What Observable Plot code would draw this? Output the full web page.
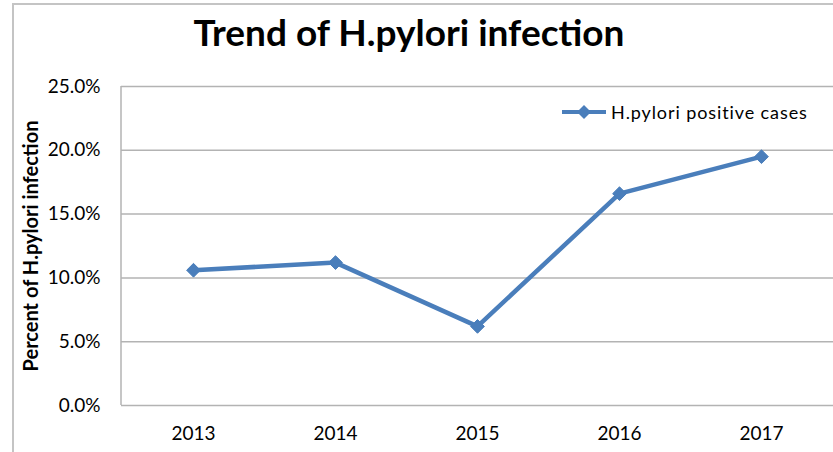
<!DOCTYPE html>
<html>
<head>
<meta charset="utf-8">
<script src="https://cdn.jsdelivr.net/npm/d3@7"></script>
<script src="https://cdn.jsdelivr.net/npm/@observablehq/plot@0.6"></script>
<style>
  html, body { margin: 0; padding: 0; background: #fff; }
  body { width: 833px; height: 452px; overflow: hidden; position: relative; font-family: Lato, "Open Sans", sans-serif; }
  #frame { position: absolute; left: 12px; top: 3px; width: 840px; height: 460px; border-left: 2px solid #c4c4c4; border-top: 2px solid #c4c4c4; }
  #title { position: absolute; left: 0; top: 8px; width: 818px; text-align: center; font-size: 37px; font-weight: bold; color: #000; line-height: 48px; }
  #chart { position: absolute; left: 0; top: 70px; }
  #legend { position: absolute; left: 560px; top: 101px; display: flex; align-items: center; font-size: 18px; letter-spacing: 0.9px; color: #000; }
  #legend svg { margin-right: 3px; }
</style>
</head>
<body>
<div id="frame"></div>
<div id="title">Trend of H.pylori infection</div>
<div id="chart"></div>
<div id="legend"></div>
<script>
const years = ["2013", "2014", "2015", "2016", "2017"];
const positiveRate = [0.106, 0.112, 0.062, 0.166, 0.195];
const yTicks = [0, 0.05, 0.10, 0.15, 0.20, 0.25];
const seriesName = "H.pylori positive cases";
const yLabel = "Percent of H.pylori infection";

const color = "#4a7ebb";
const data = years.map((y, i) => ({year: y, value: positiveRate[i]}));

const leftLine = (index, scales, values, dims) => {
  const g = d3.create("svg:g");
  g.append("line")
    .attr("x1", dims.marginLeft).attr("x2", dims.marginLeft)
    .attr("y1", dims.marginTop).attr("y2", dims.height - dims.marginBottom)
    .attr("stroke", "#b3b3b3").attr("stroke-width", 1.5);
  return g.node();
};

const chart = Plot.plot({
  width: 833,
  height: 382,
  marginLeft: 121,
  marginRight: 0,
  marginTop: 16,
  marginBottom: 47,
  style: {fontFamily: "Lato, 'Open Sans', sans-serif", fontSize: "18px", color: "#000", background: "transparent", overflow: "visible"},
  x: {type: "point", domain: years, padding: 0.5},
  y: {domain: [0, 0.25], ticks: yTicks},
  marks: [
    Plot.gridY(yTicks, {stroke: "#b3b3b3", strokeOpacity: 1, strokeWidth: 1.5}),
    leftLine,
    Plot.axisY(yTicks, {tickSize: 0, tickPadding: 21, tickFormat: d3.format(".1%"), fontSize: 19, label: null}),
    Plot.axisX({tickSize: 0, tickPadding: 21, fontSize: 19, label: null}),
    Plot.text([yLabel], {frameAnchor: "left", dx: -90, rotate: -90, textAnchor: "middle", fontWeight: "bold", fontSize: 20, text: d => d}),
    Plot.line(data, {x: "year", y: "value", stroke: color, strokeWidth: 4.5}),
    Plot.dot(data, {x: "year", y: "value", symbol: "diamond2", r: 6.2, fill: color, stroke: color, strokeWidth: 1})
  ]
});
document.getElementById("chart").appendChild(chart);

// legend
const leg = document.getElementById("legend");
const sw = d3.create("svg").attr("width", 48).attr("height", 20);
sw.append("line").attr("x1", 2).attr("x2", 46).attr("y1", 10).attr("y2", 10).attr("stroke", color).attr("stroke-width", 4);
sw.append("path").attr("d", "M24,3 L31,10 L24,17 L17,10 Z").attr("fill", color);
leg.appendChild(sw.node());
const span = document.createElement("span");
span.textContent = seriesName;
leg.appendChild(span);
</script>
</body>
</html>
